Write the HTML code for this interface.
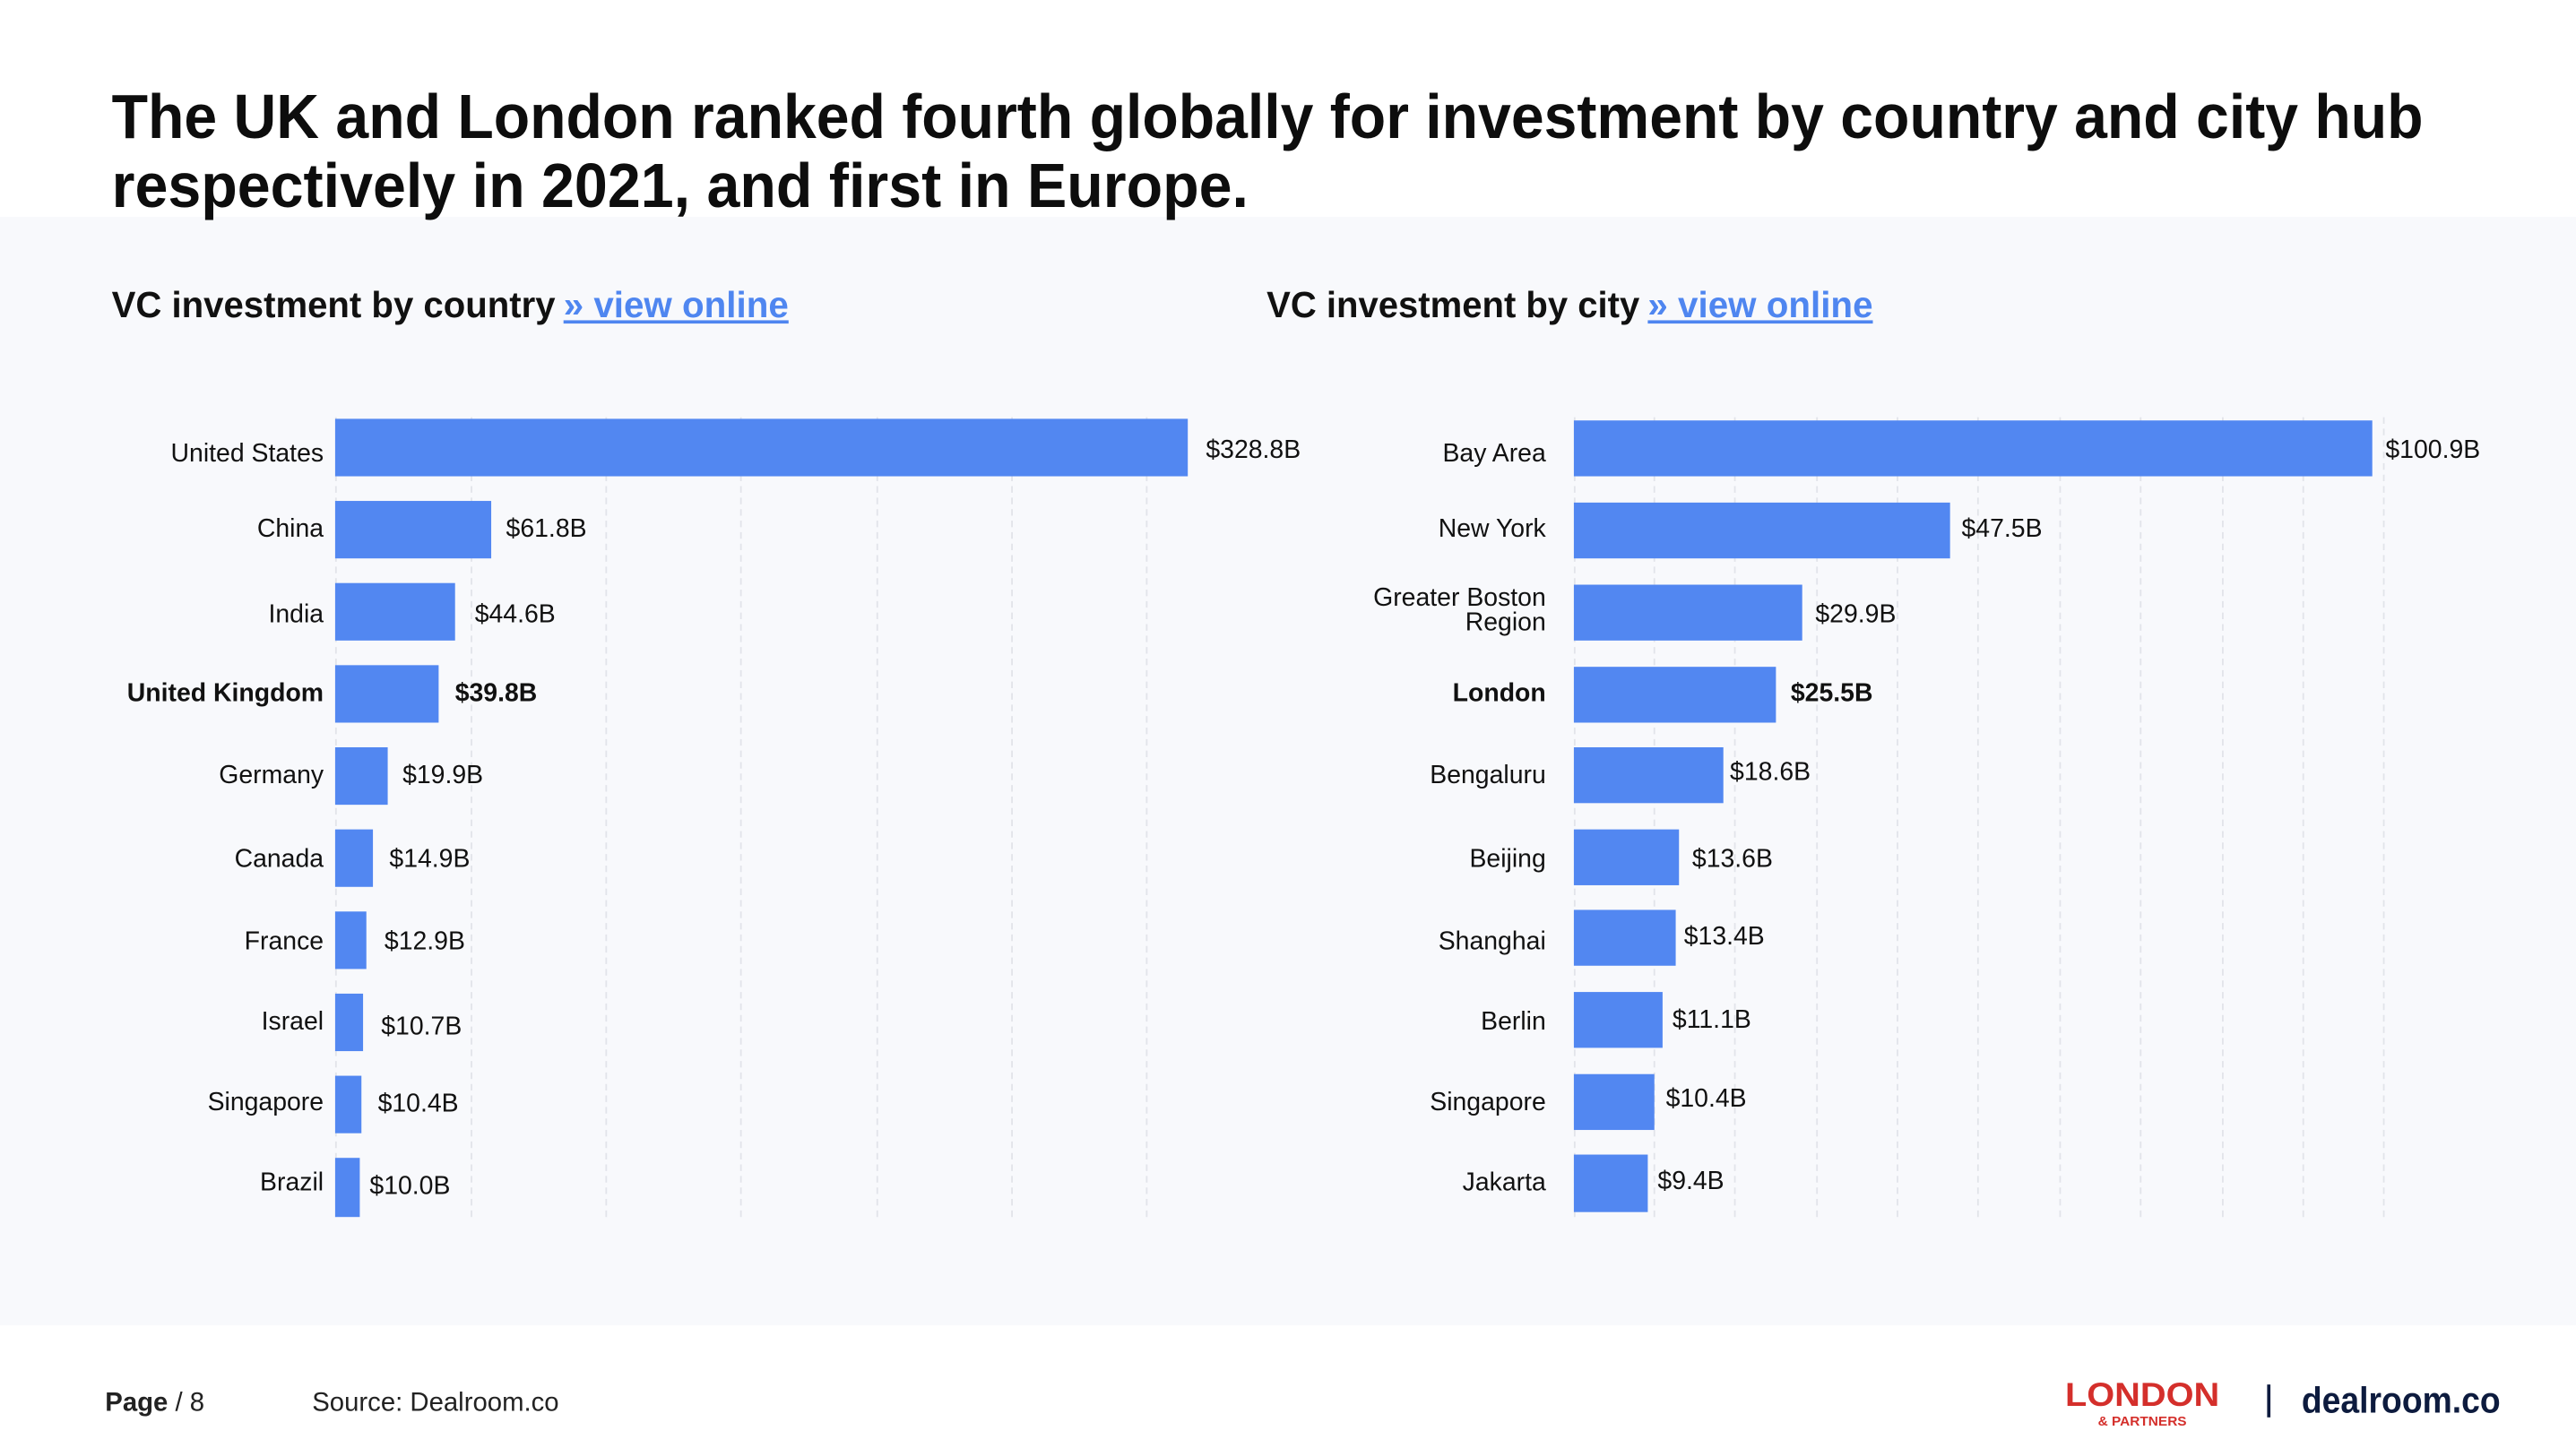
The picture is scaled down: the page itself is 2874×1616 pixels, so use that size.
<!DOCTYPE html>
<html><head><meta charset="utf-8"><style>
html,body{margin:0;padding:0;background:#fff;}
svg{display:block;}
text{font-family:"Liberation Sans",sans-serif;}
</style></head><body>
<svg width="2874" height="1616" viewBox="0 0 1568 881.65" xmlns="http://www.w3.org/2000/svg">
<rect x="0" y="0" width="1568" height="882" fill="#fff"/>
<rect x="0" y="132" width="1568" height="675" fill="#f8f9fc"/>
<g font-weight="bold" fill="#0d0d0d" font-size="38">
<text x="68" y="84" textLength="1407" lengthAdjust="spacingAndGlyphs">The UK and London ranked fourth globally for investment by country and city hub</text>
<text x="68" y="126" textLength="692" lengthAdjust="spacingAndGlyphs">respectively in 2021, and first in Europe.</text>
</g>
<g font-size="22" font-weight="bold">
<text x="68" y="193" fill="#111" textLength="270" lengthAdjust="spacingAndGlyphs">VC investment by country</text>
<text x="343" y="193" fill="#4f86f0" textLength="137" lengthAdjust="spacingAndGlyphs">» view online</text>
<rect x="343" y="195" width="137" height="2" fill="#4f86f0"/>
<text x="771" y="193" fill="#111" textLength="227" lengthAdjust="spacingAndGlyphs">VC investment by city</text>
<text x="1003" y="193" fill="#4f86f0" textLength="137" lengthAdjust="spacingAndGlyphs">» view online</text>
<rect x="1003" y="195" width="137" height="2" fill="#4f86f0"/>
</g>
<g stroke="#e2e4ea" stroke-width="1" stroke-dasharray="4,3">
<line x1="204.5" y1="254" x2="204.5" y2="743"/>
<line x1="287" y1="254" x2="287" y2="743"/><line x1="369" y1="254" x2="369" y2="743"/>
<line x1="451" y1="254" x2="451" y2="743"/><line x1="534" y1="254" x2="534" y2="743"/>
<line x1="616" y1="254" x2="616" y2="743"/><line x1="698" y1="254" x2="698" y2="743"/>
<line x1="958.5" y1="254" x2="958.5" y2="741"/>
<line x1="1007" y1="254" x2="1007" y2="741"/><line x1="1056" y1="254" x2="1056" y2="741"/>
<line x1="1106" y1="254" x2="1106" y2="741"/><line x1="1155" y1="254" x2="1155" y2="741"/>
<line x1="1204" y1="254" x2="1204" y2="741"/><line x1="1254" y1="254" x2="1254" y2="741"/>
<line x1="1303" y1="254" x2="1303" y2="741"/><line x1="1353" y1="254" x2="1353" y2="741"/>
<line x1="1402" y1="254" x2="1402" y2="741"/><line x1="1451" y1="254" x2="1451" y2="741"/>
</g>
<g fill="#5287f1">
<rect x="204" y="255" width="519" height="35"/>
<rect x="204" y="305" width="95" height="35"/>
<rect x="204" y="355" width="73" height="35"/>
<rect x="204" y="405" width="63" height="35"/>
<rect x="204" y="455" width="32" height="35"/>
<rect x="204" y="505" width="23" height="35"/>
<rect x="204" y="555" width="19" height="35"/>
<rect x="204" y="605" width="17" height="35"/>
<rect x="204" y="655" width="16" height="35"/>
<rect x="204" y="705" width="15" height="36"/>
<rect x="958" y="256" width="486" height="34"/>
<rect x="958" y="306" width="229" height="34"/>
<rect x="958" y="356" width="139" height="34"/>
<rect x="958" y="406" width="123" height="34"/>
<rect x="958" y="455" width="91" height="34"/>
<rect x="958" y="505" width="64" height="34"/>
<rect x="958" y="554" width="62" height="34"/>
<rect x="958" y="604" width="54" height="34"/>
<rect x="958" y="654" width="49" height="34"/>
<rect x="958" y="703" width="45" height="35"/>
</g>
<g font-size="15.5" fill="#111" text-anchor="end" dominant-baseline="central">
<text x="197" y="276">United States</text>
<text x="197" y="322">China</text>
<text x="197" y="374">India</text>
<text x="197" y="422" font-weight="bold">United Kingdom</text>
<text x="197" y="472">Germany</text>
<text x="197" y="523">Canada</text>
<text x="197" y="573">France</text>
<text x="197" y="622">Israel</text>
<text x="197" y="671">Singapore</text>
<text x="197" y="720">Brazil</text>
<text x="941" y="276">Bay Area</text>
<text x="941" y="322">New York</text>
<text x="941" y="364">Greater Boston</text>
<text x="941" y="379">Region</text>
<text x="941" y="422" font-weight="bold">London</text>
<text x="941" y="472">Bengaluru</text>
<text x="941" y="523">Beijing</text>
<text x="941" y="573">Shanghai</text>
<text x="941" y="622">Berlin</text>
<text x="941" y="671">Singapore</text>
<text x="941" y="720">Jakarta</text>
</g>
<g font-size="15.5" fill="#111" dominant-baseline="central">
<text x="734" y="274">$328.8B</text>
<text x="308" y="322">$61.8B</text>
<text x="289" y="374">$44.6B</text>
<text x="277" y="422" font-weight="bold">$39.8B</text>
<text x="245" y="472">$19.9B</text>
<text x="237" y="523">$14.9B</text>
<text x="234" y="573">$12.9B</text>
<text x="232" y="625">$10.7B</text>
<text x="230" y="672">$10.4B</text>
<text x="225" y="722">$10.0B</text>
<text x="1452" y="274">$100.9B</text>
<text x="1194" y="322">$47.5B</text>
<text x="1105" y="374">$29.9B</text>
<text x="1090" y="422" font-weight="bold">$25.5B</text>
<text x="1053" y="470">$18.6B</text>
<text x="1030" y="523">$13.6B</text>
<text x="1025" y="570">$13.4B</text>
<text x="1018" y="621">$11.1B</text>
<text x="1014" y="669">$10.4B</text>
<text x="1009" y="719">$9.4B</text>
</g>
<g font-size="16" fill="#222">
<text x="64" y="859"><tspan font-weight="bold">Page</tspan> / 8</text>
<text x="190" y="859">Source: Dealroom.co</text>
</g>
<text x="1257" y="856" font-size="20" font-weight="bold" fill="#d42f2b" textLength="94" lengthAdjust="spacingAndGlyphs">LONDON</text>
<text x="1277" y="868" font-size="8" font-weight="bold" fill="#d42f2b" textLength="54" lengthAdjust="spacingAndGlyphs">&amp; PARTNERS</text>
<rect x="1380" y="843" width="2" height="20" fill="#0d1b3e"/>
<text x="1401" y="860" font-size="22" font-weight="bold" fill="#0d1b3e" textLength="121" lengthAdjust="spacingAndGlyphs">dealroom.co</text>
</svg>
</body></html>
